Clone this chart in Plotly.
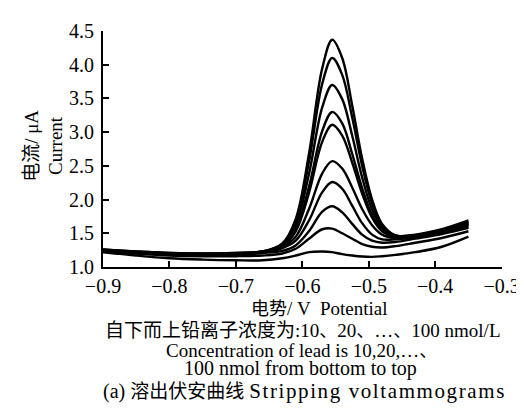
import plotly.graph_objects as go

# Potential (V)
potential = [-0.90, -0.85, -0.80, -0.75, -0.70, -0.66, -0.63, -0.61, -0.59, -0.57,
             -0.555, -0.54, -0.525, -0.51, -0.495, -0.48, -0.46, -0.43, -0.39, -0.35]

# Current (uA) for lead concentrations 10..100 nmol/L
c10 = [1.22, 1.17, 1.13, 1.11, 1.10, 1.10, 1.13, 1.17, 1.22, 1.23, 1.22, 1.19, 1.17, 1.155, 1.15, 1.16, 1.18, 1.22, 1.30, 1.45]
c20 = [1.24, 1.20, 1.17, 1.16, 1.16, 1.17, 1.20, 1.27, 1.42, 1.56, 1.57, 1.50, 1.42, 1.34, 1.30, 1.29, 1.31, 1.36, 1.43, 1.53]
c30 = [1.24, 1.21, 1.19, 1.18, 1.19, 1.21, 1.24, 1.32, 1.53, 1.82, 1.90, 1.81, 1.64, 1.48, 1.39, 1.36, 1.37, 1.42, 1.49, 1.58]
c40 = [1.24, 1.21, 1.19, 1.18, 1.19, 1.21, 1.28, 1.39, 1.69, 2.11, 2.26, 2.16, 1.91, 1.65, 1.48, 1.41, 1.41, 1.44, 1.50, 1.60]
c50 = [1.24, 1.21, 1.19, 1.18, 1.19, 1.22, 1.30, 1.45, 1.86, 2.39, 2.57, 2.46, 2.18, 1.86, 1.62, 1.48, 1.43, 1.44, 1.51, 1.62]
c60 = [1.25, 1.22, 1.20, 1.19, 1.20, 1.22, 1.31, 1.53, 2.10, 2.86, 3.11, 2.95, 2.55, 2.09, 1.73, 1.53, 1.45, 1.45, 1.52, 1.63]
c70 = [1.25, 1.22, 1.20, 1.19, 1.20, 1.22, 1.32, 1.56, 2.19, 3.02, 3.30, 3.13, 2.68, 2.17, 1.77, 1.55, 1.45, 1.46, 1.53, 1.64]
c80 = [1.25, 1.22, 1.20, 1.19, 1.20, 1.23, 1.33, 1.62, 2.38, 3.37, 3.70, 3.49, 2.95, 2.33, 1.85, 1.58, 1.46, 1.46, 1.54, 1.66]
c90 = [1.26, 1.23, 1.21, 1.20, 1.21, 1.23, 1.34, 1.68, 2.56, 3.72, 4.10, 3.85, 3.22, 2.50, 1.94, 1.62, 1.47, 1.47, 1.55, 1.67]
c100 = [1.26, 1.23, 1.21, 1.20, 1.21, 1.23, 1.35, 1.71, 2.68, 3.95, 4.37, 4.10, 3.40, 2.61, 2.00, 1.64, 1.47, 1.48, 1.56, 1.69]

series = [c10, c20, c30, c40, c50, c60, c70, c80, c90, c100]
names = ["10", "20", "30", "40", "50", "60", "70", "80", "90", "100"]

x_ticks = [-0.9, -0.8, -0.7, -0.6, -0.5, -0.4, -0.3]
y_ticks = [1.0, 1.5, 2.0, 2.5, 3.0, 3.5, 4.0, 4.5]

SERIF = "Liberation Serif"
CJK = "Noto Sans CJK SC"


def cjk(s, size=18):
    return '<span style="font-family:\'%s\';font-size:%dpx">%s</span>' % (CJK, size, s)


fig = go.Figure()
for name, ys in zip(names, series):
    fig.add_trace(go.Scatter(x=potential, y=ys, mode="lines", name=name,
                             line=dict(color="black", width=2.4, shape="spline"),
                             showlegend=False))

L, R, T, B = 95, 15, 20, 150
W, H = 524, 409
pw, ph = W - L - R, H - T - B


def px(xp):
    return (xp - L) / pw


def py(yp):
    return (T + ph - yp) / ph


fig.update_layout(
    width=W, height=H,
    margin=dict(l=L, r=R, t=T, b=B),
    paper_bgcolor="white", plot_bgcolor="white",
    font=dict(family=SERIF, color="black", size=20),
    xaxis=dict(range=[-0.9, -0.2995], tickvals=x_ticks, tickformat=".1f",
               ticks="inside", ticklen=6, tickwidth=1.5, tickcolor="black",
               showline=True, linecolor="black", linewidth=2,
               showgrid=False, zeroline=False, ticklabeloverflow="allow",
               tickfont=dict(family=SERIF, size=20)),
    yaxis=dict(range=[1.0, 4.5005], tickvals=y_ticks, tickformat=".1f",
               ticks="inside", ticklen=6, tickwidth=1.5, tickcolor="black",
               showline=True, linecolor="black", linewidth=2,
               showgrid=False, zeroline=False, ticklabeloverflow="allow",
               ticklabelstandoff=3,
               tickfont=dict(family=SERIF, size=20)),
)

wide = '<span style="letter-spacing:1.6px;font-size:21px">Stripping voltammograms</span>'

annos = [
    dict(text=cjk("电流", 19) + "/ μA<br>Current", x=px(31), y=py(136), textangle=-90, size=19),
    dict(text=cjk("电势") + "/ V  Potential", x=px(319), y=py(300), size=19),
    dict(text=cjk("自下而上铅离子浓度为", 19) + ":10" + cjk("、") + "20" + cjk("、") + "…" + cjk("、") + "100 nmol/L",
         x=px(303), y=py(321), size=19),
    dict(text="Concentration of lead is 10,20,…" + cjk("、"), x=px(301), y=py(342), size=19),
    dict(text="100 nmol from bottom to top", x=px(300), y=py(362), size=20),
    dict(text="(a) " + cjk("溶出伏安曲线", 19) + " " + wide, x=px(304), y=py(383), size=20),
]
for a in annos:
    fig.add_annotation(text=a["text"], x=a["x"], y=a["y"], xref="paper", yref="paper",
                       xanchor="center", yanchor="middle", showarrow=False,
                       textangle=a.get("textangle", 0),
                       font=dict(family=SERIF, size=a["size"], color="black"))

fig.write_html("out.html")
